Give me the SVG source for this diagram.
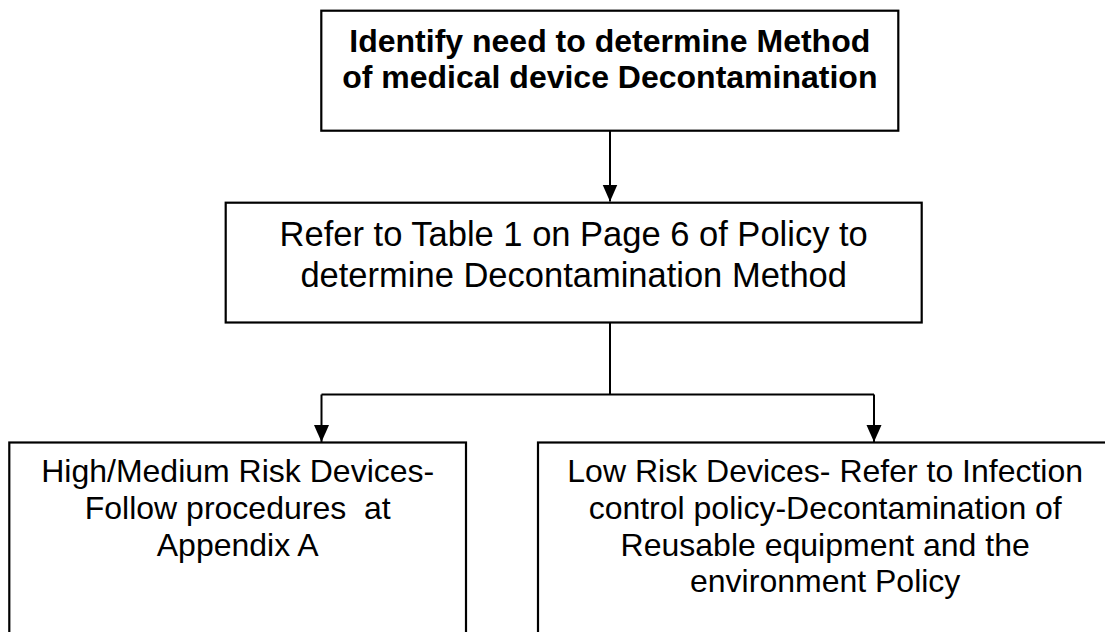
<svg xmlns="http://www.w3.org/2000/svg" width="1105" height="632" viewBox="0 0 1105 632">
  <style>
    .box { fill: #ffffff; stroke: #000000; stroke-width: 2.2; }
    .wire { fill: none; stroke: #000000; stroke-width: 2; }
    .lbl { font-family: "Liberation Sans", Arial, sans-serif; fill: #000000; text-anchor: middle; white-space: pre; }
    .bold { font-weight: bold; font-size: 32px; }
    .mid { font-size: 34.5px; }
    .small { font-size: 32px; }
  </style>
  <defs>
    <!-- solid triangular arrowhead, tip at the end of the line -->
    <marker id="arrow" markerUnits="userSpaceOnUse" markerWidth="18" markerHeight="16" refX="17" refY="7.5" orient="auto" viewBox="0 0 18 16">
      <path d="M0,0 L17,7.5 L0,15 Z" fill="#000000"/>
    </marker>
  </defs>
  <rect width="1105" height="632" fill="#ffffff"/>

  <!-- connectors -->
  <g id="connectors">
    <line class="wire" x1="610" y1="131" x2="610" y2="201.5" marker-end="url(#arrow)"/>
    <line class="wire" x1="610" y1="323" x2="610" y2="394.5"/>
    <polyline class="wire" points="321.5,394.5 874,394.5"/>
    <line class="wire" x1="321.5" y1="394.5" x2="321.5" y2="442" marker-end="url(#arrow)"/>
    <line class="wire" x1="874" y1="394.5" x2="874" y2="442" marker-end="url(#arrow)"/>
  </g>

  <g id="identify-need">
    <rect class="box" x="321.3" y="10.7" width="577" height="120"/>
    <text class="lbl bold" x="609.8" y="51.7">Identify need to determine Method</text>
    <text class="lbl bold" x="609.8" y="88.3">of medical device Decontamination</text>
  </g>

  <g id="refer-table">
    <rect class="box" x="225.7" y="202.7" width="696" height="119.8"/>
    <text class="lbl mid" x="573.7" y="246">Refer to Table 1 on Page 6 of Policy to</text>
    <text class="lbl mid" x="573.7" y="286.5">determine Decontamination Method</text>
  </g>

  <g id="high-medium-risk">
    <rect class="box" x="9.3" y="442.5" width="456.7" height="200"/>
    <text class="lbl small" x="237.7" y="482.3">High/Medium Risk Devices-</text>
    <text class="lbl small" x="237.7" y="519">Follow procedures  at</text>
    <text class="lbl small" x="237.7" y="555.7">Appendix A</text>
  </g>

  <g id="low-risk">
    <rect class="box" x="538" y="442.5" width="574" height="200"/>
    <text class="lbl small" x="825.2" y="482.3">Low Risk Devices- Refer to Infection</text>
    <text class="lbl small" x="825.2" y="519">control policy-Decontamination of</text>
    <text class="lbl small" x="825.2" y="555.7">Reusable equipment and the</text>
    <text class="lbl small" x="825.2" y="592.4">environment Policy</text>
  </g>
</svg>
